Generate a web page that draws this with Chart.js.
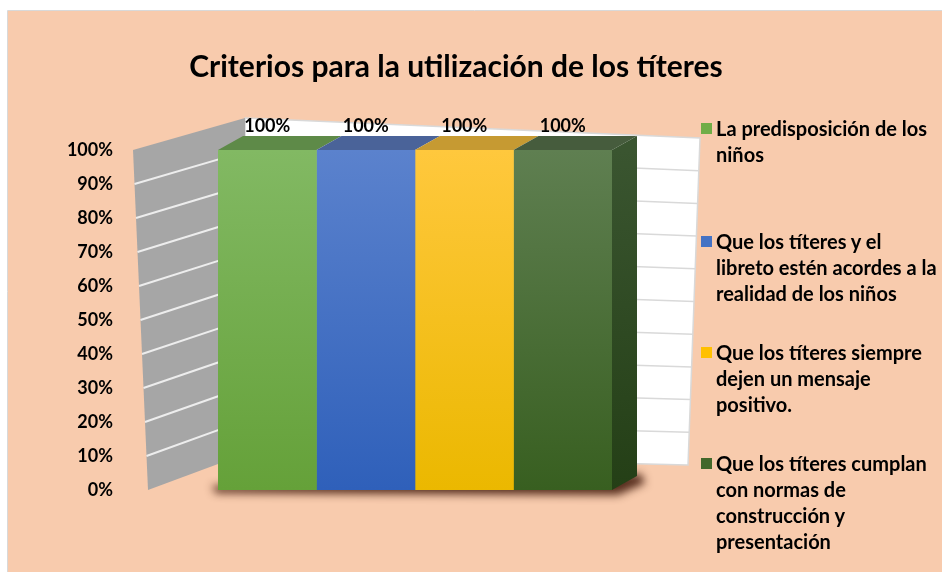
<!DOCTYPE html>
<html><head><meta charset="utf-8">
<script src="https://cdn.jsdelivr.net/npm/chart.js@4/dist/chart.umd.min.js"></script>
<style>
html,body{margin:0;padding:0;background:#fff;}
#wrap{position:relative;width:942px;height:572px;overflow:hidden;}
#legend{position:absolute;left:0;top:0;width:942px;height:572px;font-family:Lato,"Open Sans",sans-serif;font-weight:bold;font-size:20px;color:#000;pointer-events:none;}
.item{position:absolute;left:716px;white-space:nowrap;line-height:26px;}
.box{position:absolute;left:-15px;top:8px;width:11px;height:11px;}
</style></head>
<body><div id="wrap"><canvas id="c" width="942" height="572"></canvas><div id="legend"></div></div>
<script>
const chartTitle = 'Criterios para la utilización de los títeres';
const categories = ['Criterios'];
const seriesNames = [
  'La predisposición de los niños',
  'Que los títeres y el libreto estén acordes a la realidad de los niños',
  'Que los títeres siempre dejen un mensaje positivo.',
  'Que los títeres cumplan con normas de construcción y presentación'
];
const seriesLines = [
  ['La predisposición de los', 'niños'],
  ['Que los títeres y el', 'libreto estén acordes a la', 'realidad de los niños'],
  ['Que los títeres siempre', 'dejen un mensaje', 'positivo.'],
  ['Que los títeres cumplan', 'con normas de', 'construcción y', 'presentación']
];
const seriesValues = [[100], [100], [100], [100]];
const yMin = 0, yMax = 100, yStep = 10;

// styles
const frontTop = ['#82B963', '#5B82CD', '#FFC83D', '#5F7F51'];
const frontBottom = ['#65A139', '#2F60BA', '#EBB800', '#385F20'];
const topFace = ['#5E8A48', '#4A6399', '#C69A32', '#465C3D'];
const legendColors = ['#70AD47', '#4472C4', '#FFC000', '#43682B'];
const legendTops = [115, 228, 339, 450];

const DX = 25, DY = 14;

const deco = {
  id: 'deco',
  beforeDraw(chart) {
    const ctx = chart.ctx, ca = chart.chartArea, ys = chart.scales.y;
    ctx.save();
    ctx.fillStyle = '#fff';
    ctx.fillRect(0, 0, chart.width, chart.height);
    ctx.fillStyle = '#F8CBAD';
    ctx.fillRect(8, 11, chart.width - 8, chart.height - 11);
    ctx.strokeStyle = '#D9D9D9';
    ctx.lineWidth = 1;
    ctx.beginPath();
    ctx.moveTo(7.5, chart.height); ctx.lineTo(7.5, 10.5); ctx.lineTo(chart.width, 10.5);
    ctx.stroke();

    const t = ys.getPixelForValue(yMax), b = ys.getPixelForValue(yMin);
    const fl = ca.left - 85, flb = ca.left - 70;
    const bk = ca.left + 27;
    const bt = t - 32, bb = b - 36;
    const rtx = ca.right + 88, rbx = ca.right + 76;
    const rt = t - 12, rb = b - 25;
    ctx.fillStyle = '#FFFFFF';
    ctx.beginPath();
    ctx.moveTo(bk, bt); ctx.lineTo(rtx, rt); ctx.lineTo(rbx, rb); ctx.lineTo(bk, bb); ctx.closePath();
    ctx.fill();
    ctx.strokeStyle = '#D9D9D9';
    ctx.lineWidth = 1.5;
    ctx.stroke();
    ctx.fillStyle = '#A6A6A6';
    ctx.beginPath();
    ctx.moveTo(fl, t); ctx.lineTo(bk, bt); ctx.lineTo(bk, bb); ctx.lineTo(flb, b); ctx.closePath();
    ctx.fill();
    for (let v = yMin + yStep; v < yMax; v += yStep) {
      const f = (v - yMin) / (yMax - yMin);
      const fy = b + (t - b) * f, fx = flb + (fl - flb) * f;
      const by = bb + (bt - bb) * f;
      const ry = rb + (rt - rb) * f, rx = rbx + (rtx - rbx) * f;
      ctx.strokeStyle = '#EDEDED';
      ctx.lineWidth = 2;
      ctx.beginPath(); ctx.moveTo(fx, fy); ctx.lineTo(bk, by); ctx.stroke();
      ctx.strokeStyle = '#D9D9D9';
      ctx.lineWidth = 1.5;
      ctx.beginPath(); ctx.moveTo(bk, by); ctx.lineTo(rx, ry); ctx.stroke();
    }
    ctx.restore();
  },
  beforeDatasetsDraw(chart) {
    const ctx = chart.ctx;
    const first = chart.getDatasetMeta(0).data[0];
    const last = chart.getDatasetMeta(chart.data.datasets.length - 1).data[0];
    if (!first || !last) return;
    const x0 = first.x - first.width / 2, x1 = last.x + last.width / 2;
    const base = first.base;
    const off = 3000;
    ctx.save();
    ctx.shadowColor = 'rgba(70,30,15,0.9)';
    ctx.shadowBlur = 9;
    ctx.shadowOffsetX = off;
    ctx.fillStyle = '#000';
    ctx.beginPath();
    ctx.moveTo(x0 - 6 - off, base - 4);
    ctx.lineTo(x1 + DX + 4 - off, base - DY - 2);
    ctx.lineTo(x1 + DX + 8 - off, base - DY + 7);
    ctx.lineTo(x1 + 6 - off, base + 5);
    ctx.lineTo(x0 - 2 - off, base + 3);
    ctx.closePath(); ctx.fill();
    ctx.restore();
  },
  afterDatasetsDraw(chart) {
    const ctx = chart.ctx;
    ctx.save();
    chart.data.datasets.forEach((ds, i) => {
      const el = chart.getDatasetMeta(i).data[0];
      if (!el) return;
      const x0 = el.x - el.width / 2, x1 = el.x + el.width / 2, top = el.y, base = el.base;
      ctx.fillStyle = topFace[i];
      ctx.beginPath();
      ctx.moveTo(x0, top); ctx.lineTo(x1, top); ctx.lineTo(x1 + DX, top - DY); ctx.lineTo(x0 + DX, top - DY);
      ctx.closePath(); ctx.fill();
      if (i === chart.data.datasets.length - 1) {
        const g = ctx.createLinearGradient(0, top, 0, base);
        g.addColorStop(0, '#3A5530'); g.addColorStop(1, '#243F16');
        ctx.fillStyle = g;
        ctx.beginPath();
        ctx.moveTo(x1, top); ctx.lineTo(x1 + DX, top - DY); ctx.lineTo(x1 + DX, base - DY); ctx.lineTo(x1, base);
        ctx.closePath(); ctx.fill();
      }
      ctx.fillStyle = '#000';
      ctx.font = 'bold 18px Lato, "Open Sans", sans-serif';
      ctx.textAlign = 'center';
      ctx.textBaseline = 'middle';
      ctx.fillText(ds.data[0] + '%', el.x, top - DY - 10);
    });
    ctx.restore();
  }
};

const datasets = seriesNames.map((name, i) => ({
  label: name,
  data: seriesValues[i],
  backgroundColor: (c) => {
    const ca = c.chart.chartArea;
    if (!ca) return legendColors[i];
    const g = c.chart.ctx.createLinearGradient(0, ca.top, 0, ca.bottom);
    g.addColorStop(0, frontTop[i]); g.addColorStop(1, frontBottom[i]);
    return g;
  },
  borderWidth: 0,
  barPercentage: 1,
  categoryPercentage: 1
}));

new Chart(document.getElementById('c'), {
  type: 'bar',
  data: { labels: categories, datasets },
  options: {
    responsive: false,
    animation: false,
    devicePixelRatio: 1,
    layout: { padding: { left: 0, right: 30, top: 0, bottom: 82 } },
    plugins: {
      legend: { display: false },
      tooltip: { enabled: false },
      title: {
        display: true, text: chartTitle, color: '#000',
        font: { family: 'Lato', size: 30, weight: 'bold', lineHeight: 1.2 },
        padding: { top: 49, bottom: 65 }
      }
    },
    scales: {
      x: { display: false },
      y: {
        min: yMin, max: yMax,
        ticks: { stepSize: yStep, padding: 97, color: '#000', font: { family: 'Lato', size: 18, weight: 'bold' }, callback: v => v + '%' },
        grid: { display: false }, border: { display: false },
        afterFit(s) { s.width = 218; s.paddingTop = 0; s.paddingBottom = 0; }
      },
      y2: {
        position: 'right', min: 0, max: 1,
        ticks: { display: false }, grid: { display: false }, border: { display: false },
        afterFit(s) { s.width = 300; s.paddingTop = 0; s.paddingBottom = 0; }
      }
    }
  },
  plugins: [deco]
});

const leg = document.getElementById('legend');
seriesLines.forEach((lines, i) => {
  const d = document.createElement('div');
  d.className = 'item';
  d.style.top = legendTops[i] + 'px';
  const b = document.createElement('span');
  b.className = 'box';
  b.style.background = legendColors[i];
  d.appendChild(b);
  lines.forEach((ln, k) => {
    if (k) d.appendChild(document.createElement('br'));
    d.appendChild(document.createTextNode(ln));
  });
  leg.appendChild(d);
});
</script>
</body></html>
